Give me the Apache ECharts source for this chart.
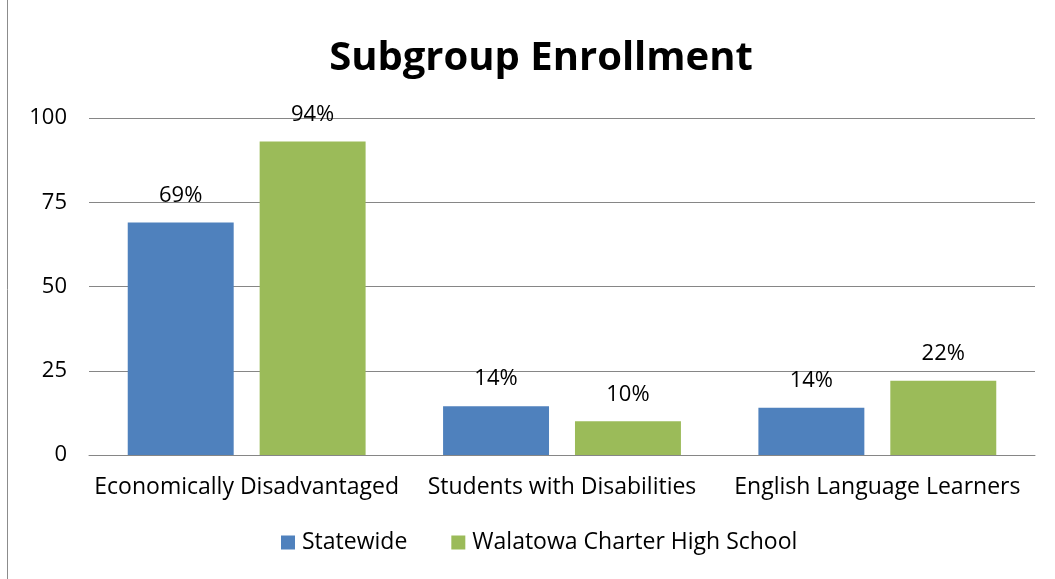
<!DOCTYPE html>
<html>
<head>
<meta charset="utf-8">
<script src="https://cdn.jsdelivr.net/npm/echarts@6/dist/echarts.min.js"></script>
<style>html,body{margin:0;padding:0;background:#fff;}#c{width:1055px;height:579px;}</style>
</head>
<body>
<div id="c"></div>
<script>
var categories = ['Economically Disadvantaged', 'Students with Disabilities', 'English Language Learners'];
var statewide = [69, 14.5, 14];
var walatowa = [93, 10, 22];
var statewideLabels = ['69%', '14%', '14%'];
var walatowaLabels = ['94%', '10%', '22%'];
var yTicks = [0, 25, 50, 75, 100];

var FONT = '"Open Sans", "Noto Sans", sans-serif';
var chart = echarts.init(document.getElementById('c'));
function lbl(arr) {
  return {
    show: true, position: 'top', distance: 16,
    fontFamily: FONT, fontSize: 22, color: '#000',
    formatter: function (p) { return arr[p.dataIndex]; }
  };
}
chart.setOption({
  animation: false,
  title: {
    text: 'Subgroup Enrollment', left: 536, textAlign: 'center', top: 34,
    textStyle: { fontFamily: FONT, fontSize: 40, fontWeight: 'bold', color: '#000' }
  },
  graphic: [{
    type: 'line', shape: { x1: 7.5, y1: 0, x2: 7.5, y2: 579 },
    style: { stroke: '#8c8c8c', lineWidth: 1 }
  }],
  legend: {
    bottom: 20, left: 276, itemWidth: 14, itemHeight: 14, itemGap: 44,
    icon: 'rect',
    textStyle: { fontFamily: FONT, fontSize: 23, color: '#000', padding: [0, 0, 0, 2] },
    data: ['Statewide', 'Walatowa Charter High School']
  },
  grid: { left: 89, right: 20, top: 118, bottom: 124, containLabel: false },
  xAxis: {
    type: 'category', data: categories,
    axisLine: { lineStyle: { color: '#868686', width: 1 } },
    axisTick: { show: false },
    axisLabel: { fontFamily: FONT, fontSize: 23, color: '#000', margin: 21, interval: 0 }
  },
  yAxis: {
    type: 'value', min: yTicks[0], max: yTicks[yTicks.length - 1], interval: 25,
    axisLine: { show: false }, axisTick: { show: false },
    splitLine: { lineStyle: { color: '#868686', width: 1 } },
    axisLabel: { fontFamily: FONT, fontSize: 22, color: '#000', margin: 22 }
  },
  series: [
    { name: 'Statewide', type: 'bar', data: statewide, barWidth: '33.6%', barGap: '24.5%',
      itemStyle: { color: '#4F81BD' }, label: lbl(statewideLabels) },
    { name: 'Walatowa Charter High School', type: 'bar', data: walatowa, barWidth: '33.6%', barGap: '24.5%',
      itemStyle: { color: '#9BBB59' }, label: lbl(walatowaLabels) }
  ]
});
</script>
</body>
</html>
